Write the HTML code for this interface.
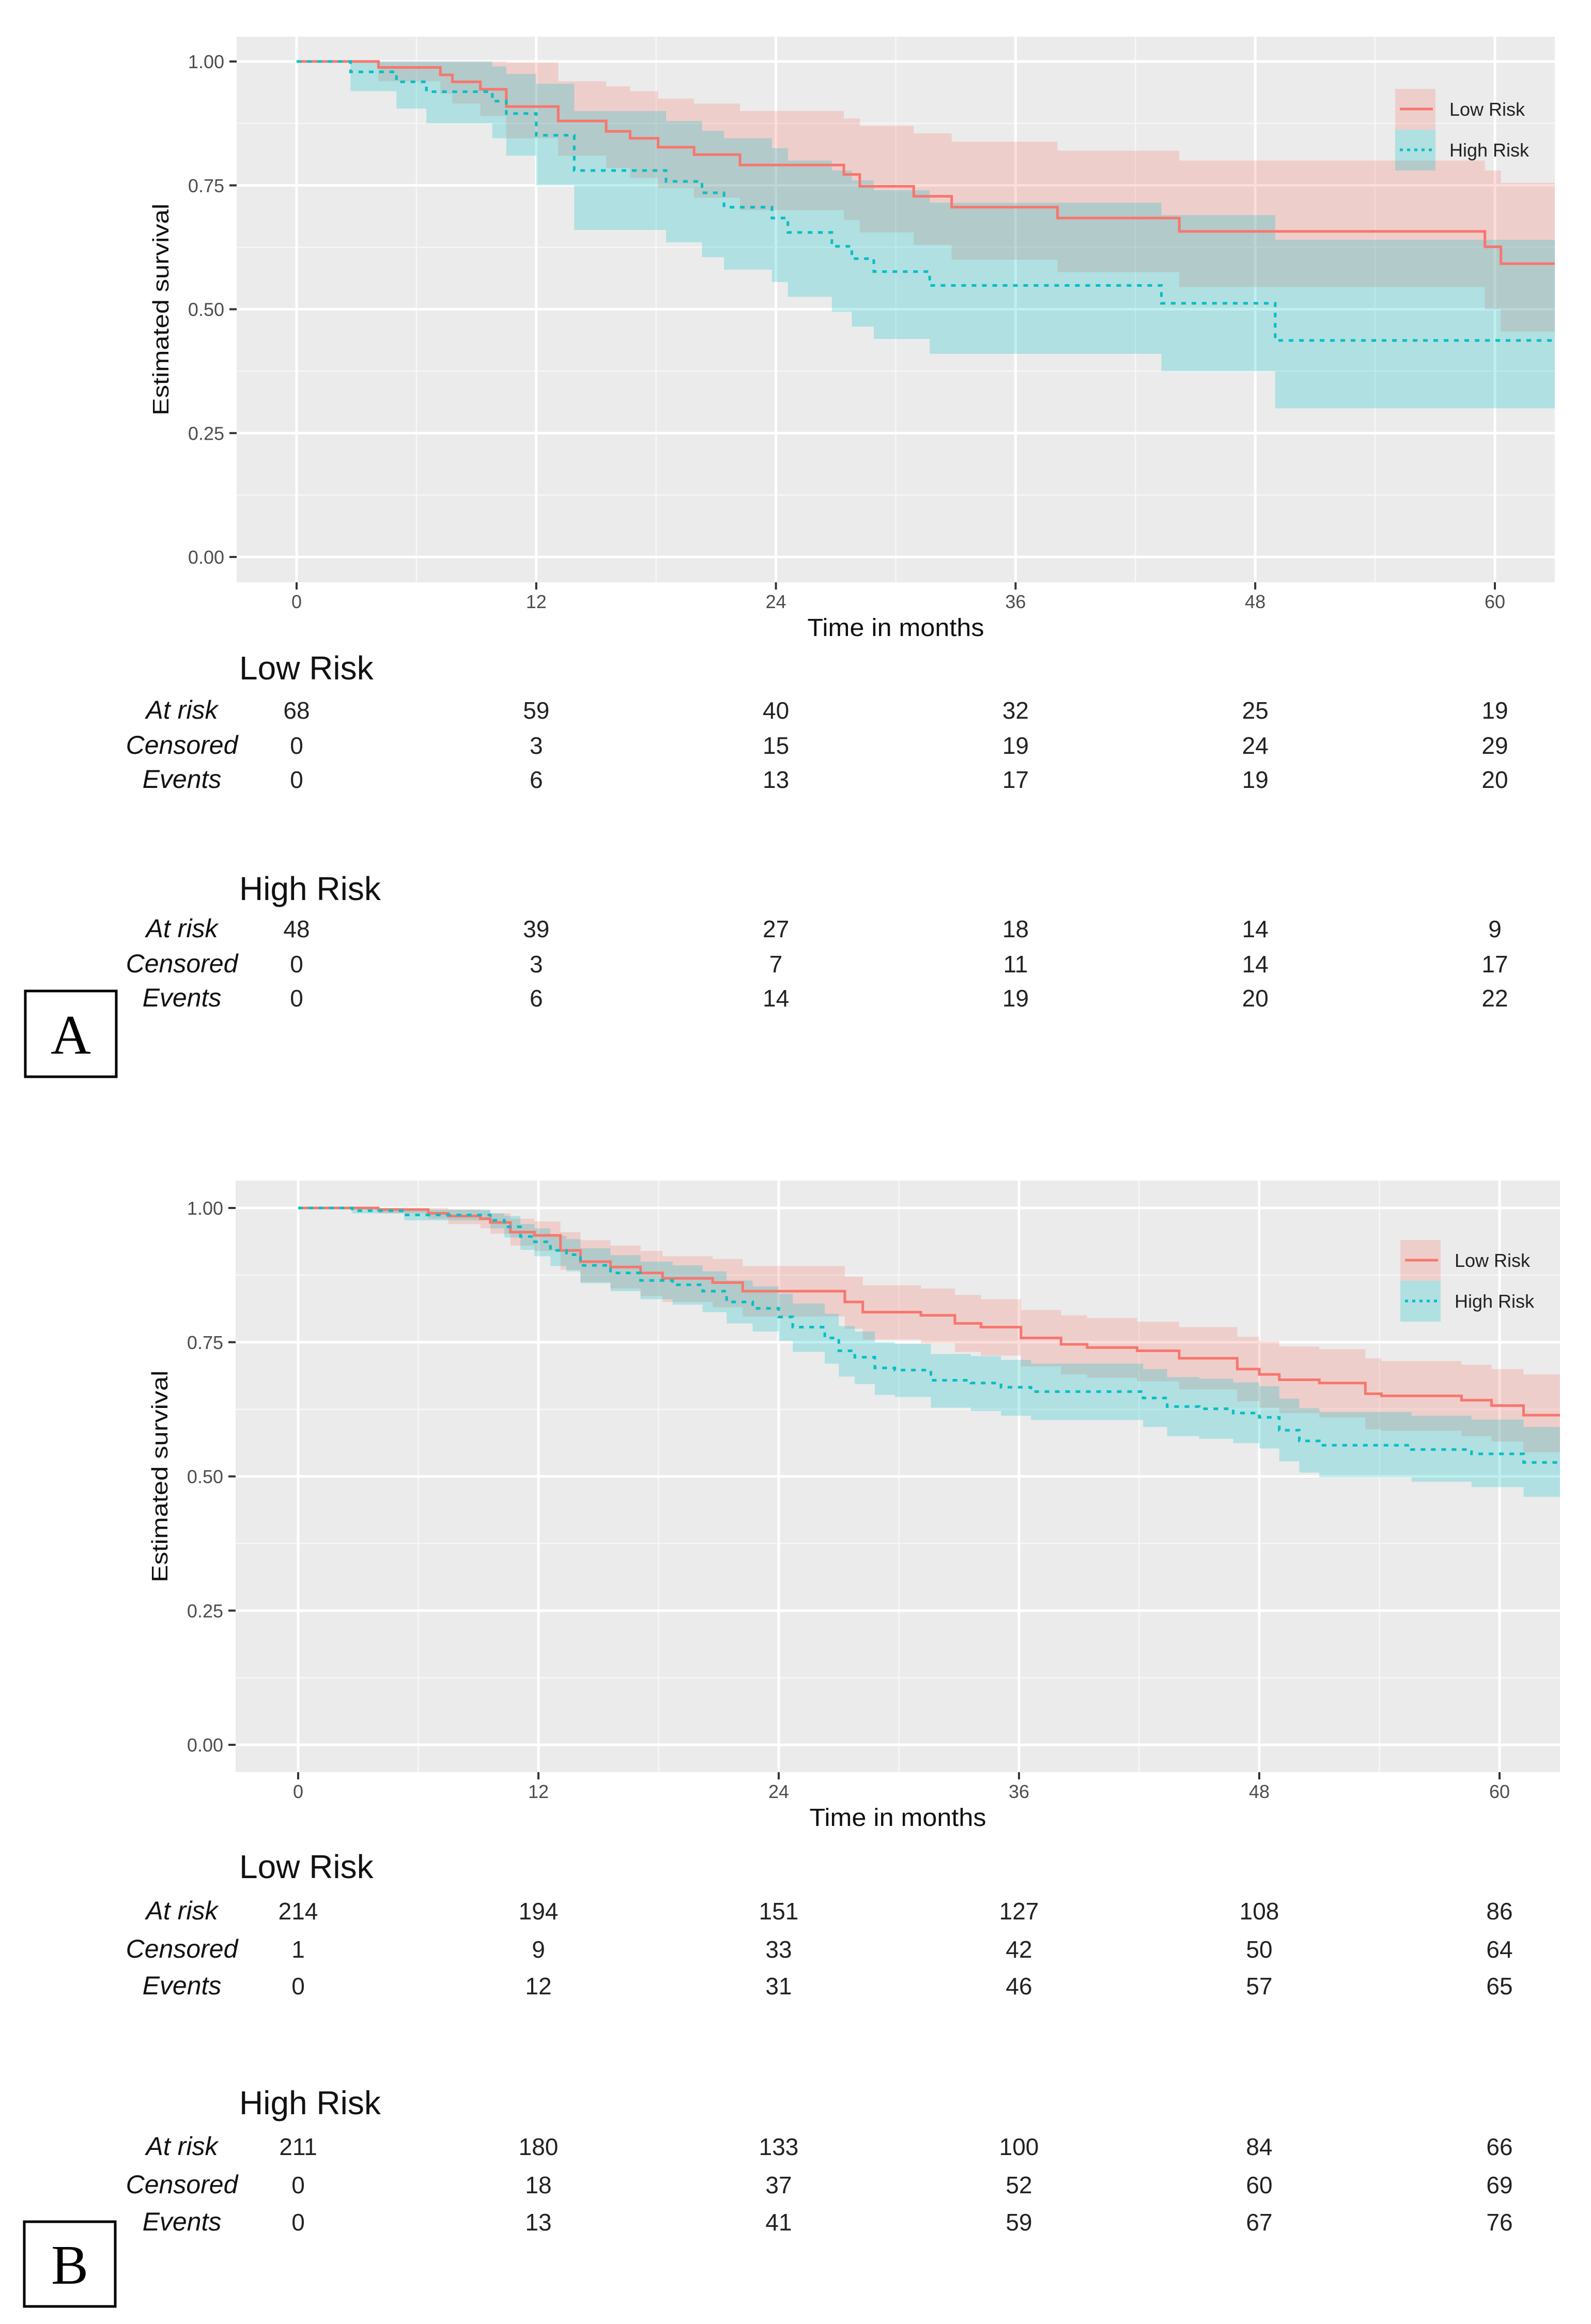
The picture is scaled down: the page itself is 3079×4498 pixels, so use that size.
<!DOCTYPE html>
<html><head><meta charset="utf-8"><style>
html,body{margin:0;padding:0;background:#fff;}
svg{display:block;}
</style></head><body>
<svg id="fig" width="3079" height="4498" viewBox="0 0 3079 4498" xmlns="http://www.w3.org/2000/svg"></svg>
<script>
// ---------- Panel A data ----------
const aLowT  = [0,4.1,7.2,7.8,9.2,10.5,13.1,15.5,16.7,18.1,19.9,22.2,27.4,28.2,30.9,32.8,38.1,44.2,59.5,60.3];
const aLowS  = [1,.988,.973,.959,.944,.909,.880,.859,.845,.827,.812,.791,.772,.748,.728,.706,.684,.657,.626,.592];
const aLowUp = [1,1,1,1,1,.998,.96,.95,.94,.925,.915,.90,.885,.87,.855,.838,.82,.80,.78,.755];
const aLowLo = [1,.96,.935,.915,.89,.845,.81,.785,.765,.745,.725,.70,.68,.655,.63,.60,.575,.545,.50,.455];
const aHighT  = [0,2.7,5.0,6.5,9.8,10.5,12.0,13.9,18.5,20.3,21.4,23.8,24.6,26.8,27.8,28.9,31.7,43.3,49.0];
const aHighS  = [1,.979,.959,.939,.92,.895,.851,.78,.758,.735,.706,.684,.655,.627,.602,.576,.548,.512,.437];
const aHighUp = [1,1,1,1,.99,.975,.955,.90,.88,.86,.845,.825,.80,.78,.76,.74,.715,.69,.64];
const aHighLo = [1,.94,.905,.875,.845,.81,.75,.66,.635,.605,.58,.555,.525,.495,.465,.44,.41,.375,.30];
// ---------- Panel B data ----------
const bLowT  = [0,4.0,6.5,7.5,9.1,9.6,10.6,11.8,13.1,14.1,15.6,17.1,18.2,20.7,22.2,27.3,28.2,31.1,32.8,34.1,36.1,38.1,39.4,41.9,44.0,46.9,48.0,49.0,51.0,53.3,54.1,58.1,59.6,61.2];
const bLowS  = [1,.997,.99,.985,.98,.973,.955,.949,.921,.90,.89,.879,.869,.861,.845,.825,.806,.80,.785,.778,.758,.746,.74,.734,.72,.70,.69,.68,.674,.654,.65,.642,.632,.614];
const bLowUp = [1,1,1,.997,.995,.99,.98,.975,.955,.94,.93,.92,.91,.905,.892,.872,.856,.85,.838,.83,.81,.80,.795,.788,.778,.76,.752,.742,.737,.72,.715,.708,.70,.69];
const bLowLo = [1,.99,.98,.97,.962,.952,.93,.92,.885,.862,.85,.836,.825,.815,.798,.775,.755,.748,.732,.725,.705,.69,.684,.677,.662,.64,.628,.618,.61,.588,.585,.575,.565,.545];
const bHighT  = [0,2.7,5.3,9.6,10.3,11.1,11.8,12.6,13.4,14.1,15.6,17.1,18.7,20.2,21.4,22.7,24.0,24.7,26.3,27.0,27.8,28.8,29.8,31.6,33.6,35.1,36.6,42.2,43.4,45.0,46.7,48.0,49.0,50.0,51.0,55.6,58.6,61.2];
const bHighS  = [1,.995,.987,.977,.965,.947,.937,.921,.913,.893,.879,.865,.857,.845,.825,.813,.797,.778,.758,.734,.722,.702,.698,.679,.674,.666,.658,.646,.63,.626,.618,.61,.586,.566,.558,.55,.542,.526];
const bHighUp = [1,1,.997,.99,.985,.97,.962,.948,.942,.925,.912,.90,.893,.882,.865,.854,.84,.822,.803,.78,.77,.75,.747,.728,.724,.717,.71,.70,.685,.682,.675,.668,.645,.627,.62,.613,.606,.592];
const bHighLo = [1,.99,.977,.962,.945,.922,.91,.892,.882,.86,.845,.83,.82,.806,.785,.77,.752,.732,.71,.686,.672,.652,.648,.628,.622,.613,.605,.592,.575,.57,.562,.552,.528,.507,.498,.49,.48,.462];
// ---------- axis ticks ----------
const xTicks = [0,12,24,36,48,60];
const xTickLabels = ["0","12","24","36","48","60"];
const yTicks = [0,0.25,0.5,0.75,1];
const yTickLabels = ["0.00","0.25","0.50","0.75","1.00"];
// ---------- risk tables ----------
const rowLabels = ["At risk","Censored","Events"];
const aLowAtRisk = [68,59,40,32,25,19];
const aLowCens = [0,3,15,19,24,29];
const aLowEvents = [0,6,13,17,19,20];
const aHighAtRisk = [48,39,27,18,14,9];
const aHighCens = [0,3,7,11,14,17];
const aHighEvents = [0,6,14,19,20,22];
const bLowAtRisk = [214,194,151,127,108,86];
const bLowCens = [1,9,33,42,50,64];
const bLowEvents = [0,12,31,46,57,65];
const bHighAtRisk = [211,180,133,100,84,66];
const bHighCens = [0,18,37,52,60,69];
const bHighEvents = [0,13,41,59,67,76];

const NS = "http://www.w3.org/2000/svg";
const svg = document.getElementById('fig');
function mk(tag, attrs, parent){
  const e = document.createElementNS(NS, tag);
  for (const k in attrs) e.setAttribute(k, attrs[k]);
  (parent||svg).appendChild(e);
  return e;
}
const RED = "#F8766D", CYAN = "#00BFC4";

function drawPanel(P, groups, tables){
  const g = mk('g', {});
  
  
  const xs = m => P.x0 + m * P.pxPerMonth;
  const ys = s => P.y0 - s * P.pxPerUnit;
  const bg = mk('rect', {x:P.left, y:P.top, width:P.right-P.left, height:P.bottom-P.top, fill:'#EBEBEB'}, g);
  
  
  for (let i=0;i<yTicks.length-1;i++){
    const v=(yTicks[i]+yTicks[i+1])/2;
    const l = mk('line',{x1:P.left,x2:P.right,y1:ys(v),y2:ys(v),stroke:'#F7F7F7','stroke-width':2.5},g);
    
    
  }
  for (let i=0;i<xTicks.length;i++){
    const v=xTicks[i]+6;
    if (xs(v) < P.right){
      const l = mk('line',{x1:xs(v),x2:xs(v),y1:P.top,y2:P.bottom,stroke:'#F7F7F7','stroke-width':2.5},g);
      
      
    }
  }
  yTicks.forEach((v,i)=>{
    const l = mk('line',{x1:P.left,x2:P.right,y1:ys(v),y2:ys(v),stroke:'#FFFFFF','stroke-width':5},g);
    
    
    const t = mk('line',{x1:P.left-14,x2:P.left,y1:ys(v),y2:ys(v),stroke:'#333','stroke-width':4},g);
    
    
    const tx = mk('text',{x:P.left-24,y:ys(v)+13,'text-anchor':'end','font-size':36,fill:'#4D4D4D','font-family':'Liberation Sans, sans-serif'},g);
    tx.textContent = yTickLabels[i];
    
    
  });
  xTicks.forEach((v,i)=>{
    const l = mk('line',{x1:xs(v),x2:xs(v),y1:P.top,y2:P.bottom,stroke:'#FFFFFF','stroke-width':5},g);
    
    
    const t = mk('line',{x1:xs(v),x2:xs(v),y1:P.bottom,y2:P.bottom+14,stroke:'#333','stroke-width':4},g);
    
    
    const tx = mk('text',{x:xs(v),y:P.bottom+50,'text-anchor':'middle','font-size':36,fill:'#4D4D4D','font-family':'Liberation Sans, sans-serif'},g);
    tx.textContent = xTickLabels[i];
    
    
  });
  groups.forEach(G=>{
    const tEnd = (P.right - P.x0)/P.pxPerMonth;
    let top = '', bot = [];
    for (let i=0;i<G.t.length;i++){
      const xa = xs(G.t[i]);
      const xb = xs(i+1<G.t.length ? G.t[i+1] : tEnd);
      top += (i===0?'M':'L') + xa + ',' + ys(G.up[i]) + 'L' + xb + ',' + ys(G.up[i]);
      bot.push([xa, ys(G.lo[i]), xb]);
    }
    for (let i=bot.length-1;i>=0;i--){
      top += 'L' + bot[i][2] + ',' + bot[i][1] + 'L' + bot[i][0] + ',' + bot[i][1];
    }
    top += 'Z';
    const band = mk('path',{d:top,fill:G.color,'fill-opacity':0.25,stroke:'none'},g);
    
    
  });
  groups.forEach(G=>{
    const tEnd = (P.right - P.x0)/P.pxPerMonth;
    let d = '';
    for (let i=0;i<G.t.length;i++){
      const xa = xs(G.t[i]);
      const xb = xs(i+1<G.t.length ? G.t[i+1] : tEnd);
      d += (i===0?'M':'L') + xa + ',' + ys(G.s[i]) + 'L' + xb + ',' + ys(G.s[i]);
    }
    const attrs = {d:d,fill:'none',stroke:G.color,'stroke-width':5};
    if (G.dash) attrs['stroke-dasharray'] = '9 11';
    const line = mk('path',attrs,g);
    
    
  });
  const lg = mk('g',{},g);
  
  
  const lx = P.right - 309, ly = P.top + P.legendDy;
  [[RED,'Low Risk',false],[CYAN,'High Risk',true]].forEach((e,i)=>{
    const eg = mk('g',{},lg);
    
    
    mk('rect',{x:lx,y:ly+i*79,width:78,height:79,fill:e[0],'fill-opacity':0.25},eg);
    const la = {x1:lx+9,x2:lx+73,y1:ly+i*79+39,y2:ly+i*79+39,stroke:e[0],'stroke-width':5};
    if (e[2]) la['stroke-dasharray']='6 8';
    mk('line',la,eg);
    const t = mk('text',{x:lx+105,y:ly+i*79+52,'font-size':36,fill:'#222','font-family':'Liberation Sans, sans-serif'},eg);
    t.textContent = e[1];
  });
  const yt = mk('text',{x:0,y:0,transform:'translate('+(P.left-132)+','+((P.top+P.bottom)/2)+') rotate(-90)','text-anchor':'middle','font-size':44,fill:'#111','font-family':'Liberation Sans, sans-serif',textLength:410,lengthAdjust:'spacingAndGlyphs'},g);
  yt.textContent = 'Estimated survival';
  
  
  const xt = mk('text',{x:(P.left+P.right)/2,y:P.bottom+104,'text-anchor':'middle','font-size':48,fill:'#111','font-family':'Liberation Sans, sans-serif',textLength:342,lengthAdjust:'spacingAndGlyphs'},g);
  xt.textContent = 'Time in months';
  
  
  tables.forEach(T=>{
    const tg = mk('g',{},g);
    
    
    const tt = mk('text',{x:463,y:T.titleY+23,'font-size':64,fill:'#111','font-family':'Liberation Sans, sans-serif'},tg);
    tt.textContent = T.title;
    
    
    T.rows.forEach((row,ri)=>{
      const y = T.rowY[ri] + 17;
      const lab = mk('text',{x:352,y:y,'text-anchor':'middle','font-size':50,'font-style':'italic',fill:'#111','font-family':'Liberation Sans, sans-serif'},tg);
      lab.textContent = rowLabels[ri];
      
      
      row.forEach((v,ci)=>{
        const n = mk('text',{x:xs(xTicks[ci]),y:y,'text-anchor':'middle','font-size':46,fill:'#222','font-family':'Liberation Sans, sans-serif'},tg);
        n.textContent = String(v);
        
        
      });
    });
  });
  const bx = mk('rect',{x:P.boxX,y:P.boxY,width:176,height:P.boxH,fill:'#fff',stroke:'#000','stroke-width':5},g);
  
  
  const bt = mk('text',{x:P.boxX+88,y:P.boxY+P.boxH/2+38,'text-anchor':'middle','font-size':108,fill:'#000','font-family':'Liberation Serif, serif'},g);
  bt.textContent = P.label;
  
  
}

drawPanel(
  {name:'panel-a',left:458,right:3009,top:71,bottom:1127,x0:574,pxPerMonth:38.65,y0:1078,pxPerUnit:959,label:'A',boxX:49,boxY:1918,boxH:166,legendDy:101},
  [{key:'low-risk',t:aLowT,s:aLowS,up:aLowUp,lo:aLowLo,color:RED,dash:false},
   {key:'high-risk',t:aHighT,s:aHighS,up:aHighUp,lo:aHighLo,color:CYAN,dash:true}],
  [{key:'low-risk',title:'Low Risk',titleY:1292,rowY:[1374,1442,1508],rows:[aLowAtRisk,aLowCens,aLowEvents]},
   {key:'high-risk',title:'High Risk',titleY:1719,rowY:[1797,1865,1931],rows:[aHighAtRisk,aHighCens,aHighEvents]}]
);
drawPanel(
  {name:'panel-b',left:456,right:3019,top:2285,bottom:3430,x0:577,pxPerMonth:38.75,y0:3377,pxPerUnit:1039,label:'B',boxX:47,boxY:4300,boxH:164,legendDy:115},
  [{key:'low-risk',t:bLowT,s:bLowS,up:bLowUp,lo:bLowLo,color:RED,dash:false},
   {key:'high-risk',t:bHighT,s:bHighS,up:bHighUp,lo:bHighLo,color:CYAN,dash:true}],
  [{key:'low-risk',title:'Low Risk',titleY:3612,rowY:[3698,3772,3843],rows:[bLowAtRisk,bLowCens,bLowEvents]},
   {key:'high-risk',title:'High Risk',titleY:4069,rowY:[4154,4228,4300],rows:[bHighAtRisk,bHighCens,bHighEvents]}]
);
</script>
</body></html>
